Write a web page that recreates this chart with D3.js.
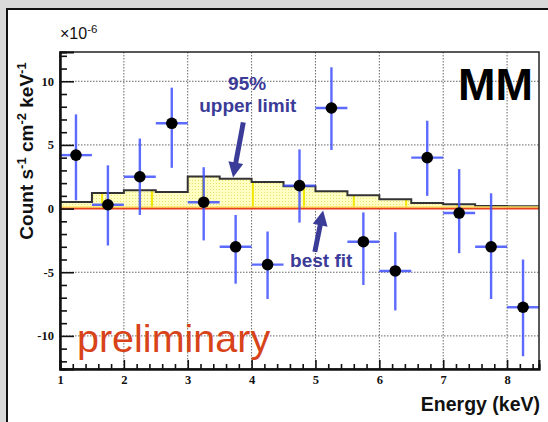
<!DOCTYPE html>
<html>
<head>
<meta charset="utf-8">
<script src="https://cdn.jsdelivr.net/npm/d3@7"></script>
<style>
  html, body { margin: 0; padding: 0; background: #d9d9d9; }
  svg { display: block; }
</style>
</head>
<body>
<svg id="chart" width="548" height="422"></svg>
<script>
// Energy bins (keV): centres, half width 0.25 keV
const energy = [1.25, 1.75, 2.25, 2.75, 3.25, 3.75, 4.25, 4.75, 5.25, 5.75, 6.25, 6.75, 7.25, 7.75, 8.25];
const binHalfWidth = 0.25;
// Measured count rate (1e-6 count s^-1 cm^-2 keV^-1) and its error range
const counts  = [4.2, 0.3, 2.5, 6.7, 0.5, -3.0, -4.4, 1.8, 7.9, -2.6, -4.9, 4.0, -0.35, -3.0, -7.75];
const errLow  = [0.65, -2.9, -0.5, 3.2, -2.5, -5.9, -7.1, -1.1, 4.6, -6.0, -8.0, 1.0, -3.5, -7.1, -11.6];
const errHigh = [7.4, 3.4, 5.5, 9.5, 3.25, -0.5, -1.8, 4.65, 11.1, -0.3, -1.85, 6.9, 3.1, 1.2, -4.0];
// Model: 95% upper limit and best fit per bin
const upperLimit = [0.52, 1.22, 1.44, 1.3, 2.53, 2.35, 2.09, 1.75, 1.37, 1.04, 0.73, 0.44, 0.34, 0.2, 0.18];
const bestFit    = [0, 0, 0, 0, 0, 0, 0, 0, 0, 0, 0, 0, 0, 0, 0];
// Energies of the model grid lines drawn inside the upper-limit band
const modelGrid = [1.66, 2.44, 3.24, 4.02, 4.82, 5.6, 6.42, 7.22, 8.0];
// Axis ticks
const xMajor = [1, 2, 3, 4, 5, 6, 7, 8];
const yMajor = [-10, -5, 0, 5, 10];
const yLabels = ["-10", "-5", "0", "5", "10"];

const svg = d3.select("#chart");
const W = 548, H = 422;
const m = { left: 60, top: 52, right: 539, bottom: 369 };

// Page frame
svg.append("rect").attr("x", 7).attr("y", 9).attr("width", W).attr("height", H)
  .attr("fill", "#fff").attr("stroke", "#111").attr("stroke-width", 2);

const x = d3.scaleLinear().domain([1, 8.5]).range([m.left, m.right]);
const y = d3.scaleLinear().domain([-12.6, 12.3]).range([m.bottom, m.top]);

const defs = svg.append("defs");
const pat = defs.append("pattern").attr("id", "dots").attr("patternUnits", "userSpaceOnUse")
  .attr("width", 3).attr("height", 3);
pat.append("rect").attr("width", 3).attr("height", 3).attr("fill", "#ffffc4");
pat.append("rect").attr("width", 1).attr("height", 1).attr("fill", "#e8e070");
defs.append("clipPath").attr("id", "plotclip").append("rect")
  .attr("x", m.left).attr("y", m.top).attr("width", m.right - m.left).attr("height", m.bottom - m.top);

// Grid
const grid = svg.append("g").attr("stroke", "#666").attr("stroke-width", 1).attr("stroke-dasharray", "1.5,1.5");
grid.selectAll(".gx").data(xMajor.filter(v => v > 1)).join("line")
  .attr("x1", d => x(d)).attr("x2", d => x(d)).attr("y1", m.top).attr("y2", m.bottom);
grid.selectAll(".gy").data(yMajor).join("line")
  .attr("y1", d => y(d)).attr("y2", d => y(d)).attr("x1", m.left).attr("x2", m.right);

const plot = svg.append("g").attr("clip-path", "url(#plotclip)");

// Upper-limit band
const bins = energy.map((e, i) => ({ x0: e - binHalfWidth, x1: e + binHalfWidth, ul: upperLimit[i], bf: bestFit[i] }));
const stepPts = [];
bins.forEach(b => { stepPts.push([b.x0, b.ul]); stepPts.push([b.x1, b.ul]); });
const area = d3.area().x(d => x(d[0])).y0(y(0)).y1(d => y(d[1]));
plot.append("path").datum(stepPts).attr("d", area).attr("fill", "url(#dots)");

// Model grid lines inside the band
function ulAt(e) {
  const b = bins.find(b => e >= b.x0 && e < b.x1) || bins[bins.length - 1];
  return b.ul;
}
plot.selectAll(".mg").data(modelGrid).join("line")
  .attr("x1", d => x(d)).attr("x2", d => x(d)).attr("y1", y(0)).attr("y2", d => y(ulAt(d)))
  .attr("stroke", "#f2e800").attr("stroke-width", 2);

// Upper-limit outline
const stepLine = [[bins[0].x0, 0]].concat(stepPts);
plot.append("path").datum(stepLine)
  .attr("d", d3.line().x(d => x(d[0])).y(d => y(d[1])))
  .attr("fill", "none").attr("stroke", "#333").attr("stroke-width", 2);

// Best fit
const bfPts = [];
bins.forEach(b => { bfPts.push([b.x0, b.bf]); bfPts.push([b.x1, b.bf]); });
plot.append("path").datum(bfPts)
  .attr("d", d3.line().x(d => x(d[0])).y(d => y(d[1]) - 1.5))
  .attr("fill", "none").attr("stroke", "#ffe060").attr("stroke-width", 1.5);
plot.append("path").datum(bfPts)
  .attr("d", d3.line().x(d => x(d[0])).y(d => y(d[1])))
  .attr("fill", "none").attr("stroke", "#e8401c").attr("stroke-width", 1.6);

// Data points with error bars
const pts = energy.map((e, i) => ({ e, c: counts[i], lo: errLow[i], hi: errHigh[i] }));
const eb = plot.append("g").attr("stroke", "#4050ff").attr("stroke-width", 2.4).attr("stroke-opacity", 0.85);
eb.selectAll(".v").data(pts).join("line")
  .attr("x1", d => x(d.e)).attr("x2", d => x(d.e)).attr("y1", d => y(d.lo)).attr("y2", d => y(d.hi));
eb.selectAll(".h").data(pts).join("line")
  .attr("x1", d => x(d.e - binHalfWidth)).attr("x2", d => x(d.e + binHalfWidth))
  .attr("y1", d => y(d.c)).attr("y2", d => y(d.c));
plot.selectAll(".pt").data(pts).join("circle")
  .attr("cx", d => x(d.e)).attr("cy", d => y(d.c)).attr("r", 5.8).attr("fill", "#000");

// Plot frame
svg.append("rect").attr("x", m.left).attr("y", m.top).attr("width", m.right - m.left).attr("height", m.bottom - m.top)
  .attr("fill", "none").attr("stroke", "#222").attr("stroke-width", 1.5);

// Axes with inward ticks
const xMinor = d3.range(1, 8.5001, 0.2).filter(v => Math.abs(v - Math.round(v)) > 1e-6);
const yMinor = d3.range(-12, 12.001, 1).filter(v => v % 5 !== 0);
const tickFont = "'Liberation Serif', serif";

const xAxisMinor = svg.append("g").attr("transform", `translate(0,${m.bottom})`)
  .call(d3.axisBottom(x).tickValues(xMinor).tickSize(-5).tickFormat(""));
const xAxisMajor = svg.append("g").attr("transform", `translate(0,${m.bottom})`)
  .call(d3.axisBottom(x).tickValues(xMajor).tickSize(-9).tickPadding(12).tickFormat(d3.format("d")));
const yAxisMinor = svg.append("g").attr("transform", `translate(${m.left},0)`)
  .call(d3.axisLeft(y).tickValues(yMinor).tickSize(-7).tickFormat(""));
const yAxisMajor = svg.append("g").attr("transform", `translate(${m.left},0)`)
  .call(d3.axisLeft(y).tickValues(yMajor).tickSize(-14).tickPadding(6).tickFormat((d, i) => yLabels[i]));
[xAxisMinor, xAxisMajor, yAxisMinor, yAxisMajor].forEach(g => {
  g.select(".domain").attr("stroke", "#111").attr("stroke-width", 2);
  g.selectAll(".tick line").attr("stroke", "#111").attr("stroke-width", 1.6);
  g.selectAll("text").attr("fill", "#111").attr("font-family", tickFont)
    .attr("font-weight", "bold").attr("font-size", 12.5);
});
xAxisMajor.selectAll("text").attr("dy", "0.2em");

// Axis titles
svg.append("text").attr("x", 540).attr("y", 411).attr("text-anchor", "end")
  .attr("font-family", "'Liberation Sans', Arial, sans-serif").attr("font-weight", "bold")
  .attr("font-size", 19.5).attr("fill", "#111").text("Energy (keV)");

const yt = svg.append("text").attr("transform", "translate(33,151) rotate(-90)").attr("text-anchor", "middle")
  .attr("font-family", "'Liberation Sans', Arial, sans-serif").attr("font-weight", "bold")
  .attr("font-size", 19).attr("fill", "#111");
[["Count s", false], ["-1", true], [" cm", false], ["-2", true], [" keV", false], ["-1", true]].forEach(([t, sup]) => {
  const ts = yt.append("tspan").text(t);
  if (sup) ts.attr("font-size", 13).attr("baseline-shift", "super");
});

const exp = svg.append("text").attr("x", 60).attr("y", 39)
  .attr("font-family", "'Liberation Sans', Arial, sans-serif").attr("font-size", 16).attr("fill", "#111");
exp.append("tspan").text("\u00d710");
exp.append("tspan").attr("font-size", 11.5).attr("baseline-shift", "super").text("-6");

// Labels
svg.append("text").attr("x", 533).attr("y", 100).attr("text-anchor", "end")
  .attr("font-family", "'Liberation Sans', Arial, sans-serif").attr("font-weight", "bold")
  .attr("font-size", 45).attr("fill", "#000").text("MM");

svg.append("text").attr("x", 77).attr("y", 352)
  .attr("font-family", "'Liberation Sans', Arial, sans-serif")
  .attr("font-size", 39.5).attr("fill", "#d8431a").text("preliminary");

const annColor = "#3b3b98";
const annFont = "'Liberation Sans', Arial, sans-serif";
svg.append("text").attr("x", x(3.93)).attr("y", y(9.3)).attr("text-anchor", "middle")
  .attr("font-family", annFont).attr("font-weight", "bold").attr("font-size", 19).attr("fill", annColor).text("95%");
svg.append("text").attr("x", x(3.94)).attr("y", y(7.55)).attr("text-anchor", "middle")
  .attr("font-family", annFont).attr("font-weight", "bold").attr("font-size", 19).attr("fill", annColor).text("upper limit");
svg.append("text").attr("x", x(5.09)).attr("y", y(-4.6)).attr("text-anchor", "middle")
  .attr("font-family", annFont).attr("font-weight", "bold").attr("font-size", 19).attr("fill", annColor).text("best fit");

function arrow(from, to) {
  const x0 = x(from[0]), y0 = y(from[1]), x1 = x(to[0]), y1 = y(to[1]);
  const dx = x1 - x0, dy = y1 - y0, L = Math.hypot(dx, dy);
  const ux = dx / L, uy = dy / L, hl = 15, hw = 7.5;
  const bx = x1 - ux * hl, by = y1 - uy * hl;
  svg.append("line").attr("x1", x0).attr("y1", y0).attr("x2", bx + ux * 2).attr("y2", by + uy * 2)
    .attr("stroke", annColor).attr("stroke-width", 5);
  svg.append("path").attr("d", d3.line()([[x1, y1], [bx - uy * hw, by + ux * hw], [bx + uy * hw, by - ux * hw]]) + "Z")
    .attr("fill", annColor);
}
arrow([3.87, 6.77], [3.71, 2.45]);
arrow([4.99, -3.4], [5.12, -0.15]);
</script>
</body>
</html>
